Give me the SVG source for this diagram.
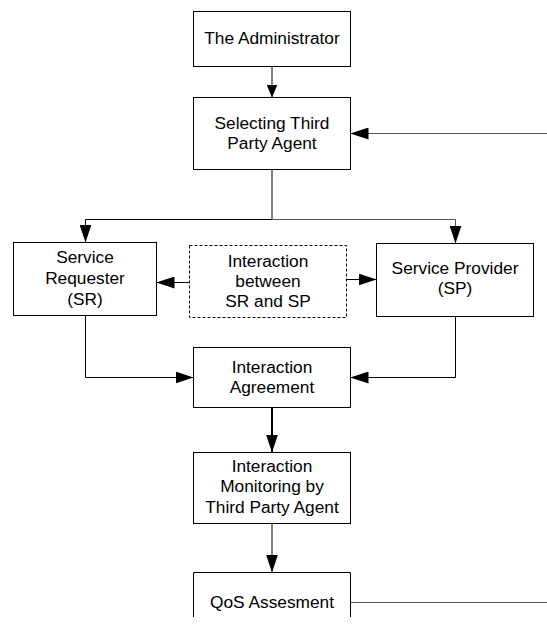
<svg xmlns="http://www.w3.org/2000/svg" width="547" height="627" viewBox="0 0 547 627">
  <style>
    .box { fill: #ffffff; stroke: #000000; stroke-width: 1; }
    .dash { fill: #ffffff; stroke: #000000; stroke-width: 1; stroke-dasharray: 3 2; }
    .lbl { font-family: "Liberation Sans", Arial, sans-serif; font-size: 17.3px; fill: #000000; text-anchor: middle; }
    .wire { fill: none; stroke: #000000; stroke-width: 1; }
    .grey { stroke: #555555; }
    .thick { stroke-width: 2; }
  </style>
  <defs>
    <marker id="arrow" markerUnits="userSpaceOnUse" viewBox="0 0 18 12" refX="18" refY="6" markerWidth="18" markerHeight="12" orient="auto">
      <path d="M0,0 L18,6 L0,12 Z" fill="#000000"/>
    </marker>
    <marker id="arrow-sm" markerUnits="userSpaceOnUse" viewBox="0 0 13 11" refX="13" refY="5.5" markerWidth="13" markerHeight="11" orient="auto">
      <path d="M0,0 L13,5.5 L0,11 Z" fill="#000000"/>
    </marker>
  </defs>

  <rect width="547" height="627" fill="#ffffff"/>

  <!-- connectors -->
  <g id="connectors">
    <line class="wire" x1="272" y1="66.5" x2="272" y2="97.5" marker-end="url(#arrow-sm)"/>
    <line class="wire grey" x1="547" y1="133.5" x2="350.5" y2="133.5" marker-end="url(#arrow)"/>
    <polyline class="wire" points="272,169.5 272,219.5 85.5,219.5 85.5,242.5" marker-end="url(#arrow)"/>
    <polyline class="wire grey" points="272,219.5 455.5,219.5 455.5,243.5" marker-end="url(#arrow)"/>
    <line class="wire" x1="189.5" y1="282.5" x2="156.5" y2="282.5" marker-end="url(#arrow)"/>
    <line class="wire" x1="346.5" y1="279.5" x2="376.5" y2="279.5" marker-end="url(#arrow)"/>
    <polyline class="wire" points="85.5,315.5 85.5,377.5 193.5,377.5" marker-end="url(#arrow)"/>
    <polyline class="wire" points="455.5,316.5 455.5,377.5 350.5,377.5" marker-end="url(#arrow)"/>
    <line class="wire thick" x1="272" y1="407.5" x2="272" y2="452.5" marker-end="url(#arrow)"/>
    <line class="wire" x1="272" y1="523.5" x2="272" y2="572.5" marker-end="url(#arrow)"/>
    <line class="wire grey" x1="350.5" y1="602.5" x2="547" y2="602.5"/>
  </g>

  <!-- nodes -->
  <g id="administrator">
    <rect class="box" x="193.5" y="11.5" width="157" height="55"/>
    <text class="lbl" x="272" y="44">The Administrator</text>
  </g>

  <g id="selecting-agent">
    <rect class="box" x="193.5" y="97.5" width="157" height="72"/>
    <text class="lbl" x="272" y="129">Selecting Third</text>
    <text class="lbl" x="272" y="149">Party Agent</text>
  </g>

  <g id="service-requester">
    <rect class="box" x="13.5" y="242.5" width="143" height="73"/>
    <text class="lbl" x="85" y="263">Service</text>
    <text class="lbl" x="85" y="284">Requester</text>
    <text class="lbl" x="85" y="305">(SR)</text>
  </g>

  <g id="interaction-between">
    <rect class="dash" x="189.5" y="245.5" width="157" height="72"/>
    <text class="lbl" x="268" y="267">Interaction</text>
    <text class="lbl" x="268" y="287">between</text>
    <text class="lbl" x="268" y="307">SR and SP</text>
  </g>

  <g id="service-provider">
    <rect class="box" x="376.5" y="243.5" width="157" height="73"/>
    <text class="lbl" x="455" y="274">Service Provider</text>
    <text class="lbl" x="455" y="294">(SP)</text>
  </g>

  <g id="interaction-agreement">
    <rect class="box" x="193.5" y="347.5" width="157" height="60"/>
    <text class="lbl" x="272" y="373">Interaction</text>
    <text class="lbl" x="272" y="393">Agreement</text>
  </g>

  <g id="interaction-monitoring">
    <rect class="box" x="193.5" y="452.5" width="157" height="71"/>
    <text class="lbl" x="272" y="472">Interaction</text>
    <text class="lbl" x="272" y="492">Monitoring by</text>
    <text class="lbl" x="272" y="513">Third Party Agent</text>
  </g>

  <g id="qos-assessment">
    <polyline class="box" fill="none" points="193.5,617 193.5,572.5 350.5,572.5 350.5,617"/>
    <text class="lbl" x="272" y="608">QoS Assesment</text>
  </g>
</svg>
